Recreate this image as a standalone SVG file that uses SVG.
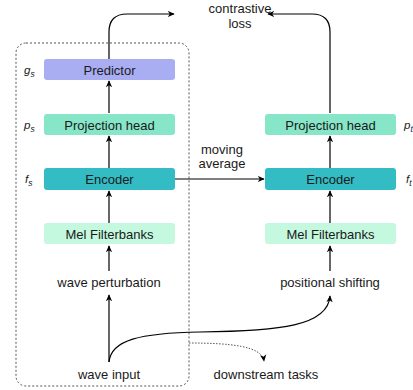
<svg xmlns="http://www.w3.org/2000/svg" width="413" height="390" viewBox="0 0 413 390">
<style>
text{font-family:"Liberation Sans",Arial,sans-serif;font-size:13px;fill:#1a1a1a}
.c{text-anchor:middle}
.lab{font-style:italic;font-size:11.5px}
.sub{font-size:8.5px}
.ln{fill:none;stroke:#000;stroke-width:1.2}
</style>
<defs>
<marker id="ah" viewBox="0 0 10 10" refX="9" refY="5" markerWidth="7" markerHeight="7" orient="auto" markerUnits="userSpaceOnUse">
<path d="M0,0.5 L10,5 L0,9.5 L3,5 Z" fill="#000"/>
</marker>
</defs>
<rect x="16" y="43" width="173" height="343" rx="10" fill="none" stroke="#555" stroke-width="1" stroke-dasharray="2,2"/>
<g id="connectors">
<path class="ln" d="M109,59 L109,32 Q109,14 127,14 L174,14" marker-end="url(#ah)"/>
<path class="ln" d="M330,113 L330,32 Q330,14 312,14 L268,14" marker-end="url(#ah)"/>
<path class="ln" d="M109,113 L109,81" marker-end="url(#ah)"/>
<path class="ln" d="M109,168 L109,136" marker-end="url(#ah)"/>
<path class="ln" d="M109,223 L109,191" marker-end="url(#ah)"/>
<path class="ln" d="M109,271 L109,246" marker-end="url(#ah)"/>
<path class="ln" d="M109,362 L109,295" marker-end="url(#ah)"/>
<path class="ln" d="M330,168 L330,136" marker-end="url(#ah)"/>
<path class="ln" d="M330,223 L330,191" marker-end="url(#ah)"/>
<path class="ln" d="M330,271 L330,246" marker-end="url(#ah)"/>
<path class="ln" d="M175,179 L264,179" marker-end="url(#ah)"/>
<path class="ln" d="M109,362 C111,340 140,333 200,332 C280,331 328,326 330,296" marker-end="url(#ah)"/>
<path fill="none" stroke="#555" stroke-width="1" stroke-dasharray="1.5,1.5" d="M189,343 C230,343 262,346 264,361" marker-end="url(#ah)"/>
</g>
<g id="predictor"><rect x="44" y="59" width="131" height="21" rx="3" fill="#a9aef3"/><text class="c" x="109.5" y="74.5">Predictor</text></g>
<g id="proj-s"><rect x="44" y="114" width="131" height="21" rx="3" fill="#87e6c7"/><text class="c" x="109.5" y="129.5">Projection head</text></g>
<g id="enc-s"><rect x="44" y="168" width="131" height="22" rx="3" fill="#33bcc4"/><text class="c" x="109.5" y="184">Encoder</text></g>
<g id="mel-s"><rect x="44" y="223" width="131" height="21" rx="3" fill="#c4f8df"/><text class="c" x="109.5" y="238.5">Mel Filterbanks</text></g>
<g id="proj-t"><rect x="265" y="114" width="131" height="21" rx="3" fill="#87e6c7"/><text class="c" x="330.5" y="129.5">Projection head</text></g>
<g id="enc-t"><rect x="265" y="168" width="131" height="22" rx="3" fill="#33bcc4"/><text class="c" x="330.5" y="184">Encoder</text></g>
<g id="mel-t"><rect x="265" y="223" width="131" height="21" rx="3" fill="#c4f8df"/><text class="c" x="330.5" y="238.5">Mel Filterbanks</text></g>
<g id="wave-pert"><text class="c" x="109" y="287">wave perturbation</text></g>
<g id="wave-input"><text class="c" x="109" y="379">wave input</text></g>
<g id="pos-shift"><text class="c" x="330" y="287">positional shifting</text></g>
<g id="downstream"><text class="c" x="266" y="379">downstream tasks</text></g>
<g id="loss"><text class="c" x="240" y="13">contrastive</text><text class="c" x="240" y="28">loss</text></g>
<g id="moving"><text class="c" x="222" y="154">moving</text><text class="c" x="222" y="168">average</text></g>
<text class="lab" x="24" y="74">g<tspan class="sub" dy="3">s</tspan></text>
<text class="lab" x="24" y="129">p<tspan class="sub" dy="3">s</tspan></text>
<text class="lab" x="25" y="183">f<tspan class="sub" dy="3">s</tspan></text>
<text class="lab" x="404" y="129">p<tspan class="sub" dy="3">t</tspan></text>
<text class="lab" x="406" y="183">f<tspan class="sub" dy="3">t</tspan></text>
</svg>
